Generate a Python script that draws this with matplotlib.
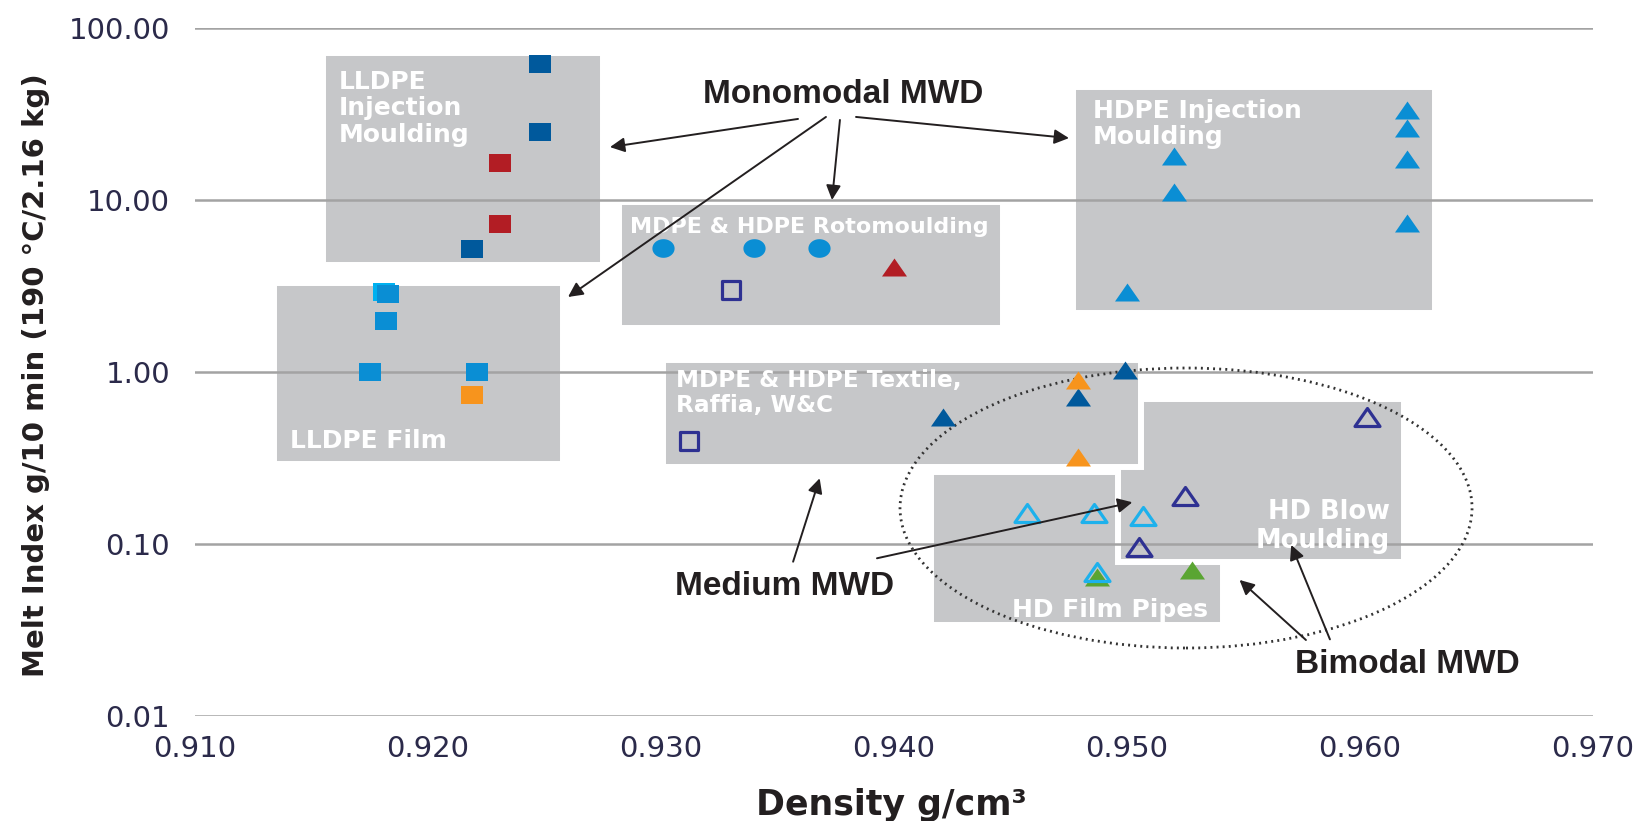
import matplotlib
matplotlib.use("Agg")
import matplotlib.pyplot as plt
from matplotlib.patches import Rectangle, Ellipse
from matplotlib.path import Path
import numpy as np

# density (g/cm3) vs melt index (g/10 min) for each grade family
sq_dark_x = [0.9248, 0.9248, 0.9219]
sq_dark_y = [61.5, 24.9, 5.17]
sq_red_x = [0.9231, 0.9231]
sq_red_y = [16.3, 7.25]
sq_cyan_x = [0.9181]
sq_cyan_y = [2.93]
sq_blue_x = [0.9183, 0.9182, 0.9175, 0.9221]
sq_blue_y = [2.83, 1.98, 1.00, 1.00]
sq_orange_x = [0.9219]
sq_orange_y = [0.735]
circ_blue_x = [0.9301, 0.9340, 0.9368]
circ_blue_y = [5.24, 5.24, 5.24]
sq_open_x = [0.9330, 0.9312]
sq_open_y = [2.98, 0.399]
tri_red_x = [0.9400]
tri_red_y = [4.09]
tri_blue_x = [0.9620, 0.9620, 0.9620, 0.9620, 0.9520, 0.9520, 0.9500]
tri_blue_y = [33.4, 26.1, 17.3, 7.32, 18.0, 11.2, 2.93]
tri_dark_x = [0.9421, 0.9479, 0.9499]
tri_dark_y = [0.545, 0.713, 1.03]
tri_orange_x = [0.9479, 0.9479]
tri_orange_y = [0.899, 0.322]
tri_green_x = [0.9487, 0.9528]
tri_green_y = [0.0646, 0.0707]
tri_open_light_x = [0.9457, 0.9486, 0.9507, 0.9487]
tri_open_light_y = [0.151, 0.152, 0.146, 0.069]
tri_open_navy_x = [0.9525, 0.9505, 0.9603]
tri_open_navy_y = [0.190, 0.0958, 0.55]

x_ticks = [0.910, 0.920, 0.930, 0.940, 0.950, 0.960, 0.970]
y_ticks = [0.01, 0.1, 1, 10, 100]
y_tick_labels = ["0.01", "0.10", "1.00", "10.00", "100.00"]

# application areas: (x0, x1, y0, y1), drawn in this order
areas = [
    (0.9155, 0.9275, 4.19, 71.3),    # LLDPE injection moulding
    (0.9134, 0.9258, 0.292, 3.30),   # LLDPE film
    (0.9282, 0.9447, 1.80, 9.78),    # rotomoulding
    (0.9477, 0.9632, 2.19, 45.2),    # HDPE injection moulding
    (0.9416, 0.9541, 0.0338, 0.263), # HD film / pipes
    (0.9496, 0.9619, 0.0788, 0.694), # HD blow moulding
    (0.9301, 0.9506, 0.281, 1.17),   # textile, raffia, W&C
]

GREY = "#c6c7c9"
INK = "#231f20"
TICK = "#2b2a4a"

fig = plt.figure(figsize=(16.47, 8.21), dpi=100)
ax = fig.add_axes([0.1184, 0.1279, 0.8488, 0.8380])
ax.set_yscale("log")
ax.set_xlim(0.910, 0.970)
ax.set_ylim(0.01, 100)

for s in ax.spines.values():
    s.set_visible(False)
ax.set_yticks(y_ticks)
ax.set_yticklabels(y_tick_labels)
ax.yaxis.set_minor_locator(matplotlib.ticker.NullLocator())
ax.set_xticks(x_ticks)
ax.set_xticklabels([f"{v:.3f}" for v in x_ticks])
ax.tick_params(axis="y", length=0, pad=18, labelsize=21, labelcolor=TICK)
ax.tick_params(axis="x", length=0, pad=14, labelsize=21, labelcolor=TICK)

# horizontal grid runs over the shaded areas
for v in y_ticks:
    ax.axhline(v, color="#a3a3a3", linewidth=1.8, zorder=1.5)

for x0, x1, y0, y1 in areas:
    ax.add_patch(Rectangle((x0, y0), x1 - x0, y1 - y0, facecolor=GREY,
                           edgecolor="white", linewidth=4.3, zorder=1))


def shape(verts):
    return Path(verts + [verts[0]], closed=True)


# slightly flattened markers
tri = shape([(-1, -0.72), (1, -0.72), (0, 0.72)])
sq = shape([(-1, -0.85), (1, -0.85), (1, 0.85), (-1, 0.85)])
sq_o = shape([(-1, -0.95), (1, -0.95), (1, 0.95), (-1, 0.95)])
t = np.linspace(0, 2 * np.pi, 40)[:-1]
circ = shape(list(zip(np.cos(t), 0.84 * np.sin(t))))


def pts(x, y, marker, color, size, open_=False):
    if open_:
        ax.plot(x, y, ls="none", marker=marker, markersize=size,
                markerfacecolor="none", markeredgecolor=color,
                markeredgewidth=2.3, zorder=3)
    else:
        ax.plot(x, y, ls="none", marker=marker, markersize=size,
                color=color, markeredgewidth=0, zorder=3)


pts(sq_dark_x, sq_dark_y, sq, "#00599c", 16)
pts(sq_red_x, sq_red_y, sq, "#b21d24", 16)
pts(sq_cyan_x, sq_cyan_y, sq, "#00b1f0", 16)
pts(sq_blue_x, sq_blue_y, sq, "#0a8ed4", 16)
pts(sq_orange_x, sq_orange_y, sq, "#f7941d", 16)
pts(circ_blue_x, circ_blue_y, circ, "#0a8ed4", 16)
pts(sq_open_x, sq_open_y, sq_o, "#2e3192", 13.5, open_=True)
pts(tri_red_x, tri_red_y, tri, "#b21d24", 18)
pts(tri_blue_x, tri_blue_y, tri, "#0a8ed4", 18)
pts(tri_dark_x, tri_dark_y, tri, "#00599c", 18)
pts(tri_orange_x, tri_orange_y, tri, "#f7941d", 18)
pts(tri_green_x, tri_green_y, tri, "#5aa532", 18)
pts(tri_open_light_x, tri_open_light_y, tri, "#1db1ec", 18, open_=True)
pts(tri_open_navy_x, tri_open_navy_y, tri, "#2e3192", 18, open_=True)

# white labels inside the areas
lab = dict(color="white", fontweight="bold", family="DejaVu Sans", zorder=4)
ax.text(0.91619, 57.0, "LLDPE\nInjection\nMoulding", va="top", ha="left",
        fontsize=18, linespacing=1.12, **lab)
ax.text(0.91406, 0.3614, "LLDPE Film", va="baseline", ha="left",
        fontsize=18, **lab)
ax.text(0.92865, 6.43, "MDPE & HDPE Rotomoulding", va="baseline", ha="left",
        fontsize=16, **lab)
ax.text(0.94853, 38.7, "HDPE Injection\nMoulding", va="top", ha="left",
        fontsize=18, linespacing=1.12, **lab)
ax.text(0.93063, 1.04, "MDPE & HDPE Textile,\nRaffia, W&C", va="top",
        ha="left", fontsize=16.7, linespacing=1.08, **lab)
ax.text(0.94508, 0.0376, "HD Film Pipes", va="baseline", ha="left",
        fontsize=18, **lab)
ax.text(0.96129, 0.1827, "HD Blow\nMoulding", va="top", ha="right",
        multialignment="right", fontsize=18.5, linespacing=1.16, **lab)

# molecular weight distribution callouts
note = dict(color=INK, fontweight="bold", family=["Liberation Sans", "DejaVu Sans"],
            fontsize=24, va="baseline", zorder=5)
ax.text(0.93784, 36.6, "Monomodal MWD", ha="center", **note)
ax.text(0.93059, 0.0505, "Medium MWD", ha="left", **note)
ax.text(0.95721, 0.01778, "Bimodal MWD", ha="left", **note)

arrows = [
    ((0.93588, 29.6), (0.92781, 20.3)),
    ((0.93708, 30.4), (0.92601, 2.73)),
    ((0.93768, 29.2), (0.93734, 10.0)),
    ((0.93837, 30.4), (0.94751, 22.9)),
    ((0.93567, 0.0789), (0.93681, 0.241)),
    ((0.93927, 0.0826), (0.95023, 0.1748)),
    ((0.95768, 0.02766), (0.95483, 0.0618)),
    ((0.95871, 0.0279), (0.95705, 0.0987)),
]
for start, end in arrows:
    ax.annotate("", xy=end, xytext=start,
                arrowprops=dict(arrowstyle="-|>", color=INK, lw=1.4,
                                mutation_scale=22, shrinkA=0, shrinkB=0),
                zorder=6)

# bimodal grades enclosed by a dotted ellipse
ax.add_patch(Ellipse((0.7089, 0.3023), 0.4092, 0.407, transform=ax.transAxes,
                     fill=False, edgecolor="#333333", linewidth=2.0,
                     linestyle=(0, (0.7, 1.5)), zorder=2))

fig.text(36 / 1647, 1 - 375 / 821, "Melt Index g/10 min (190 °C/2.16 kg)",
         rotation=90, ha="center", va="center", fontsize=21,
         fontweight="bold", color=INK)
fig.text(891 / 1647, 1 - 815 / 821, "Density g/cm³", ha="center",
         va="baseline", fontsize=25, fontweight="bold", color=INK)

fig.savefig("out.png", dpi=100)
